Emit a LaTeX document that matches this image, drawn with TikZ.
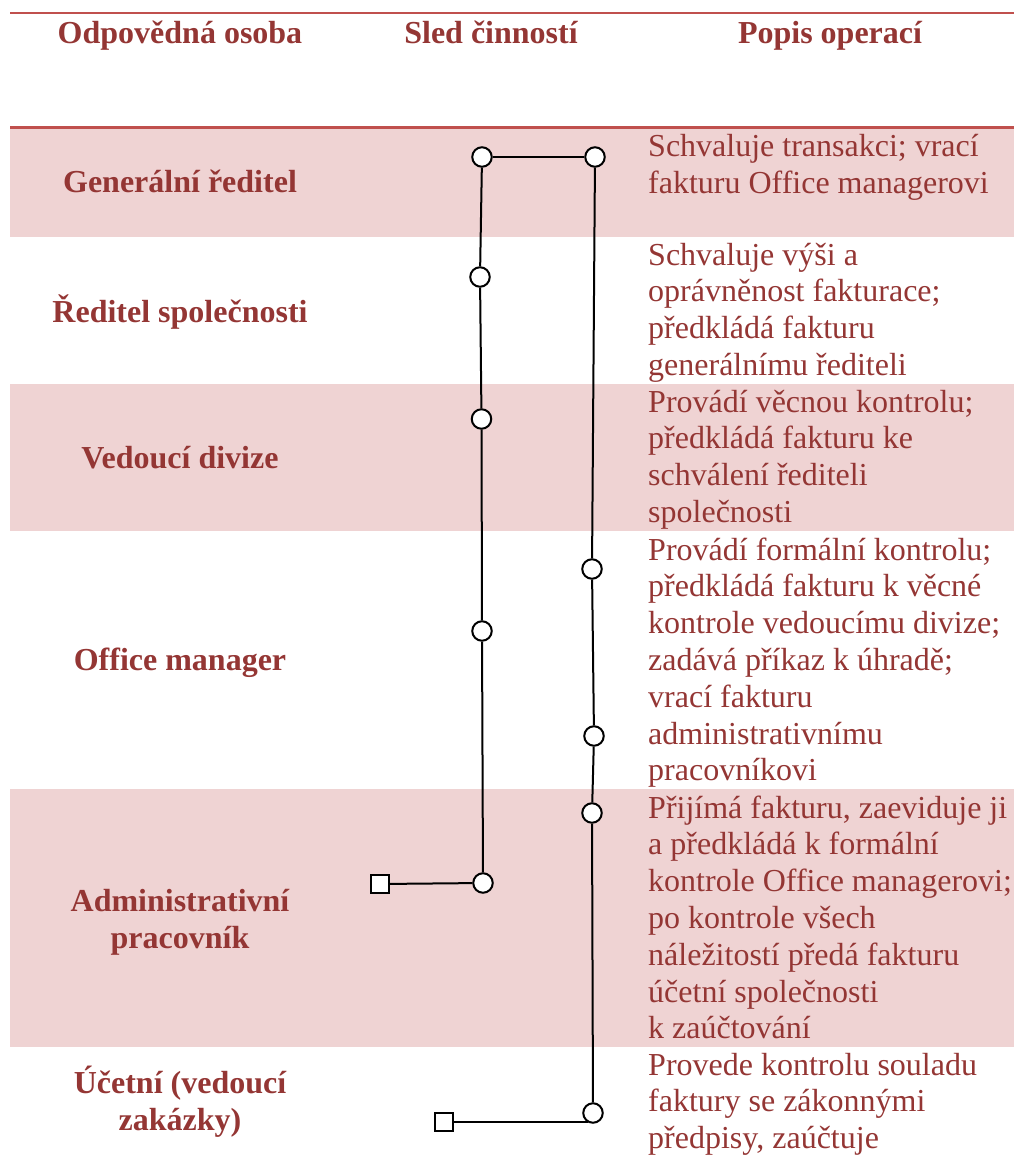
\documentclass[tikz,border=0pt]{standalone}
\usepackage{fontspec}
\setmainfont{Liberation Serif}
\definecolor{textred}{HTML}{943634}
\definecolor{rulered}{HTML}{C0504D}
\definecolor{bandpink}{HTML}{EFD3D3}
\begin{document}
\begin{tikzpicture}[x=1pt,y=-1pt,
  head/.style={font=\fontsize{32}{36.8}\selectfont\bfseries,text=textred,inner sep=0,anchor=base},
  role/.style={font=\fontsize{32}{36.8}\selectfont\bfseries,text=textred,inner sep=0,anchor=base,align=center},
  desc/.style={font=\fontsize{32}{36.8}\selectfont,text=textred,inner sep=0,anchor=base west,align=left},
  stepnode/.style={circle,draw=black,fill=white,line width=2pt,minimum size=19.5pt,inner sep=0},
  endnode/.style={rectangle,draw=black,fill=white,line width=2pt,minimum size=18pt,inner sep=0},
  flow/.style={draw=black,line width=2pt},
  rule/.style={draw=rulered,line width=2.8pt}]
\useasboundingbox (0,0) rectangle (1014,1155);

% shaded rows
\fill[bandpink] (10,129) rectangle (1014,237);
\fill[bandpink] (10,384) rectangle (1014,531);
\fill[bandpink] (10,789) rectangle (1014,1047);

% header rules
\draw[rule] (10,13) -- (1014,13);
\draw[rule] (10,127.5) -- (1014,127.5);

% column headings
\node[head] (h1) at (180,44) {Odpovědná osoba};
\node[head] (h2) at (491,44) {Sled činností};
\node[head] (h3) at (830,44) {Popis operací};

% responsible persons (positions give the baseline of the last line)
\node[role] (p1) at (180,193) {Generální ředitel};
\node[role] (p2) at (180,322) {Ředitel společnosti};
\node[role] (p3) at (180,468) {Vedoucí divize};
\node[role] (p4) at (180,670) {Office manager};
\node[role] (p5) at (180,948) {Administrativní\\pracovník};
\node[role] (p6) at (180,1130) {Účetní (vedoucí\\zakázky)};

% descriptions of operations (positions give the baseline of the last line)
\node[desc] (d1) at (648,193.8) {Schvaluje transakci; vrací\\fakturu Office managerovi};
\node[desc] (d2) at (648,375.4) {Schvaluje výši a\\oprávněnost fakturace;\\předkládá fakturu\\generálnímu řediteli};
\node[desc] (d3) at (648,522.4) {Provádí věcnou kontrolu;\\předkládá fakturu ke\\schválení řediteli\\společnosti};
\node[desc] (d4) at (648,780.8) {Provádí formální kontrolu;\\předkládá fakturu k věcné\\kontrole vedoucímu divize;\\zadává příkaz k úhradě;\\vrací fakturu\\administrativnímu\\pracovníkovi};
\node[desc] (d5) at (648,1038.8) {Přijímá fakturu, zaeviduje ji\\a předkládá k formální\\kontrole Office managerovi;\\po kontrole všech\\náležitostí předá fakturu\\účetní společnosti\\k zaúčtování};
\node[desc] (d6) at (648,1148.6) {Provede kontrolu souladu\\faktury se zákonnými\\předpisy, zaúčtuje};

% activity steps
\node[stepnode] (l1) at (482,157) {};
\node[stepnode] (l2) at (480,277) {};
\node[stepnode] (l3) at (481.5,419) {};
\node[stepnode] (l4) at (482,631) {};
\node[stepnode] (l5) at (483,883) {};
\node[stepnode] (r1) at (595,157) {};
\node[stepnode] (r2) at (592,569) {};
\node[stepnode] (r3) at (594,736) {};
\node[stepnode] (r4) at (592,813) {};
\node[stepnode] (r5) at (593,1113) {};
\node[endnode] (s1) at (380,884) {};
\node[endnode] (s2) at (444,1122) {};

% flow connectors
\draw[flow] (s1) -- (l5);
\draw[flow] (l5) -- (l4) -- (l3) -- (l2) -- (l1);
\draw[flow] (l1) -- (r1);
\draw[flow] (r1) -- (r2) -- (r3) -- (r4) -- (r5);
\draw[flow] (r5.-120) -- (s2.east |- r5.-120);
\end{tikzpicture}
\end{document}
